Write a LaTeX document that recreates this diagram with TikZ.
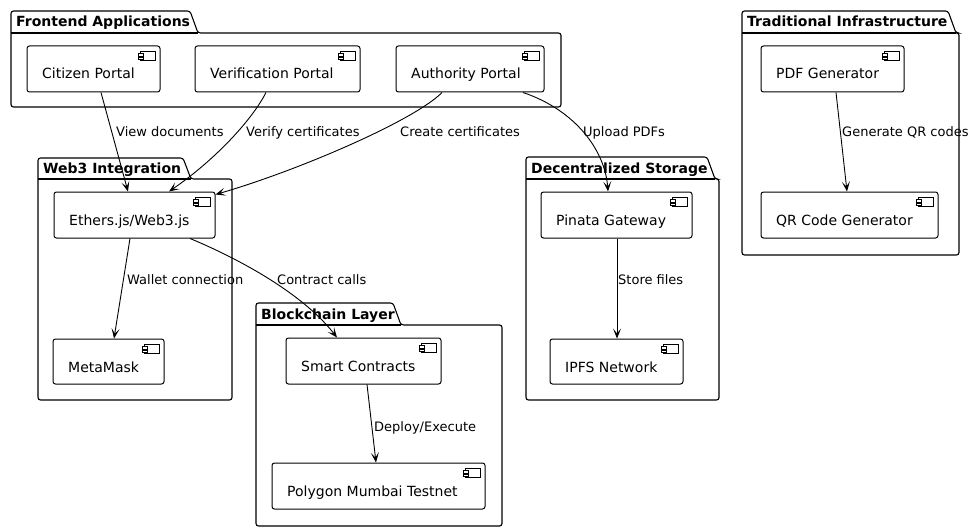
\documentclass[tikz,border=0pt]{standalone}
\usepackage{fontspec}
\setmainfont{DejaVu Sans}
\usetikzlibrary{arrows.meta,calc}

\tikzset{
 compbox/.style={draw, line width=1pt, rounded corners=2.5pt, fill=white, inner sep=0pt},
 comptext/.style={anchor=base west, inner sep=0pt, font=\fontsize{14}{16}\selectfont},
 edgelabel/.style={anchor=base west, inner sep=0pt, font=\fontsize{13}{15}\selectfont},
 pkgtitle/.style={anchor=base west, inner sep=0pt, font=\fontsize{14}{16}\selectfont\bfseries},
 pkgline/.style={draw, line width=1.1pt, rounded corners=2.5pt, fill=white},
 iconbox/.style={draw, line width=0.8pt, fill=white},
 conn/.style={draw, line width=0.9pt, -{Stealth[length=10pt,width=8pt,inset=5pt]}},
}

\newcommand{\mypkg}[8]{%
 \draw[pkgline] (#2,#7) -- (#2,#3) -- (#4,#3) -- (#4+8,#5) -- (#6,#5) -- (#6,#7) -- cycle;
 \draw[line width=1.1pt] (#2,#5) -- (#4+8,#5);
 \node[pkgtitle] (#1) at (#2+5,{(#3+#5)/2+5}) {#8};
}
\newcommand{\mycomp}[6]{%
 \node[compbox, minimum width={#4-#2}, minimum height={#5-#3}] (#1) at ({(#2+#4)/2},{(#3+#5)/2}) {};
 \node[comptext] (#1-t) at (#2+15,#3+33) {#6};
 \draw[iconbox] ($(#1.north east)+(-20,6)$) rectangle ($(#1.north east)+(-5,15)$);
 \draw[iconbox] ($(#1.north east)+(-22,8)$) rectangle ($(#1.north east)+(-17,10.5)$);
 \draw[iconbox] ($(#1.north east)+(-22,11.5)$) rectangle ($(#1.north east)+(-17,14)$);
}

\begin{document}
\begin{tikzpicture}[x=1pt,y=-1pt]
\useasboundingbox[fill=white] (0,0) rectangle (974,532);

% packages
\mypkg{pfront}{11}{11}{190}{33}{561}{107}{Frontend Applications}
\mypkg{pweb}{38}{158}{183}{179}{232}{400}{Web3 Integration}
\mypkg{pchain}{256}{303}{393}{325}{502}{526}{Blockchain Layer}
\mypkg{pstore}{526}{157}{707}{179}{719}{400}{Decentralized Storage}
\mypkg{ptrad}{742}{11}{948}{33}{959}{255}{Traditional Infrastructure}

% components
\mycomp{cit}{27}{46}{160}{92}{Citizen Portal}
\mycomp{ver}{195}{46}{360}{92}{Verification Portal}
\mycomp{auth}{396}{46}{544}{92}{Authority Portal}
\mycomp{eth}{54}{192}{215}{238}{Ethers.js/Web3.js}
\mycomp{meta}{53}{339}{164}{384}{MetaMask}
\mycomp{smart}{286}{338}{441}{384}{Smart Contracts}
\mycomp{poly}{272}{463}{485}{509}{Polygon Mumbai Testnet}
\mycomp{pin}{541}{192}{692}{238}{Pinata Gateway}
\mycomp{ipfs}{550}{339}{683}{384}{IPFS Network}
\mycomp{pdf}{761}{46}{904}{92}{PDF Generator}
\mycomp{qr}{761}{192}{938}{238}{QR Code Generator}

% connectors
\draw[conn] ([xshift=7.5pt]cit.south) -- ([xshift=-6.5pt]eth.north);
\draw[conn] ([xshift=-11.5pt]ver.south) .. controls (252,120) and (215,160) .. ([xshift=34.5pt]eth.north);
\draw[conn] ([xshift=-28pt]auth.south) .. controls (415,120) and (300,170) .. ([yshift=-3pt]eth.north east);
\draw[conn] ([xshift=53pt]auth.south) .. controls (575,110) and (605,150) .. ([xshift=-8.5pt]pin.north);
\draw[conn] ([xshift=-4.5pt]eth.south) -- ([xshift=5.5pt]meta.north);
\draw[conn] ([xshift=55.5pt]eth.south) .. controls (230,255) and (300,290) .. ([xshift=-26.5pt]smart.north);
\draw[conn] ([xshift=3.5pt]smart.south) -- ([xshift=-2.5pt]poly.north);
\draw[conn] ([xshift=0.5pt]pin.south) -- ([xshift=0.5pt]ipfs.north);
\draw[conn] ([xshift=3.5pt]pdf.south) -- ([xshift=-2.5pt]qr.north);

% labels
\node[edgelabel] (l1) at (116,137) {View documents};
\node[edgelabel] (l2) at (246,137) {Verify certificates};
\node[edgelabel] (l3) at (400,137) {Create certificates};
\node[edgelabel] (l4) at (583,137) {Upload PDFs};
\node[edgelabel] (l5) at (127,284) {Wallet connection};
\node[edgelabel] (l6) at (277,284) {Contract calls};
\node[edgelabel] (l7) at (374,431) {Deploy/Execute};
\node[edgelabel] (l8) at (618,284) {Store files};
\node[edgelabel] (l9) at (842,137) {Generate QR codes};
\end{tikzpicture}
\end{document}
